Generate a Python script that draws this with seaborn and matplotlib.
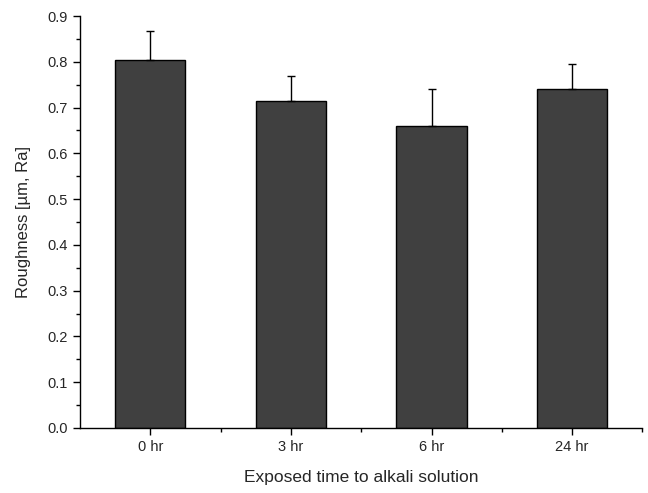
import numpy as np
import pandas as pd
import seaborn as sns
import matplotlib.pyplot as plt
from matplotlib.ticker import MultipleLocator

# roughness after exposure to alkali solution
times = ['0 hr', '3 hr', '6 hr', '24 hr']
roughness = [0.805, 0.714, 0.660, 0.740]
sd = [0.063, 0.056, 0.081, 0.055]

df = pd.DataFrame({'time': times, 'Ra': roughness})

sns.set_style('ticks')
plt.rcParams['font.family'] = ['Liberation Sans', 'DejaVu Sans']

fig = plt.figure(figsize=(6.48, 4.93), dpi=100)
ax = fig.add_axes([0.1235, 0.132, 0.868, 0.8355])

sns.barplot(data=df, x='time', y='Ra', color='#404040', saturation=1,
            width=0.5, edgecolor='black', linewidth=1, errorbar=None, ax=ax)

#upper error bars only
ax.errorbar(np.arange(len(times)), roughness, yerr=[np.zeros(len(sd)), sd],
            fmt='none', ecolor='black', elinewidth=1, capsize=3, capthick=1)

ax.set_xlim(-0.5, 3.5)
ax.set_ylim(0, 0.9)
ax.yaxis.set_major_locator(MultipleLocator(0.1))
ax.yaxis.set_minor_locator(MultipleLocator(0.05))
ax.set_xticks([0.5, 1.5, 2.5, 3.5], minor=True)
ax.yaxis.set_major_formatter(plt.FormatStrFormatter('%.1f'))
ax.tick_params(which='both', direction='out', width=1, color='black', labelsize=10.5)
ax.tick_params(which='major', length=5)
ax.tick_params(which='minor', length=3)
sns.despine(ax=ax)
for s in ['left', 'bottom']:
    ax.spines[s].set_color('black')
    ax.spines[s].set_linewidth(1)

ax.set_xlabel('Exposed time to alkali solution', fontsize=12.5, labelpad=12)
ax.set_ylabel('Roughness [\u00b5m, Ra]', fontsize=12, labelpad=12)

plt.savefig('out.png', dpi=100)
